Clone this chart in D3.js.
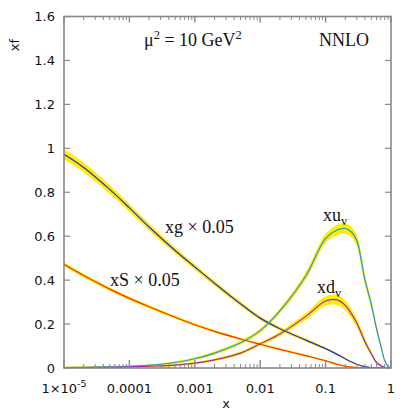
<!DOCTYPE html>
<html><head><meta charset="utf-8">
<script src="https://cdn.jsdelivr.net/npm/d3@7"></script>
<style>body{margin:0;background:#fff;}svg{display:block;}</style>
</head><body>
<svg id="c" width="415" height="415"></svg>
<script>
const xs = [1e-5,2e-5,5e-5,1e-4,2e-4,5e-4,1e-3,2e-3,5e-3,0.01,0.02,0.05,0.1,0.15,0.2,0.25,0.3,0.4,0.5,0.6,0.7,0.8,0.9,1];
const xg = [0.973,0.913,0.813,0.729,0.642,0.535,0.46,0.386,0.292,0.227,0.179,0.127,0.088,0.062,0.042,0.027,0.017,0.006,0.002,0.0007,0.0002,0,0,0];
const xgErr = [0.022,0.02,0.018,0.016,0.014,0.012,0.01,0.009,0.008,0.007,0.006,0.005,0.004,0.003,0.002,0.002,0.001,0.001,0,0,0,0,0,0];
const xS = [0.472,0.421,0.359,0.317,0.279,0.231,0.197,0.167,0.132,0.108,0.085,0.056,0.033,0.017,0.008,0.004,0.002,0.0005,0.0001,0,0,0,0,0];
const xSErr = [0.007,0.006,0.006,0.005,0.005,0.004,0.004,0.004,0.003,0.003,0.003,0.002,0.002,0.002,0.001,0.001,0.001,0,0,0,0,0,0,0];
const xuv = [0.002,0.003,0.005,0.007,0.012,0.025,0.042,0.068,0.115,0.17,0.26,0.42,0.59,0.628,0.635,0.618,0.58,0.40,0.29,0.18,0.10,0.035,0.008,0];
const xuvErr = [0.002,0.002,0.002,0.002,0.002,0.003,0.004,0.005,0.006,0.007,0.009,0.013,0.018,0.021,0.022,0.021,0.019,0.014,0.01,0.007,0.004,0.002,0.001,0];
const xdv = [0.0015,0.002,0.0035,0.005,0.008,0.013,0.022,0.037,0.068,0.11,0.155,0.235,0.305,0.31,0.285,0.245,0.205,0.12,0.065,0.025,0.01,0.003,0.0005,0];
const xdvErr = [0.001,0.001,0.001,0.002,0.002,0.003,0.003,0.004,0.005,0.006,0.008,0.013,0.019,0.021,0.02,0.018,0.016,0.011,0.007,0.004,0.002,0.001,0,0];
const yTicks = [0,0.2,0.4,0.6,0.8,1,1.2,1.4,1.6];
const yTickLabels = ["0","0.2","0.4","0.6","0.8","1","1.2","1.4","1.6"];
const xMajor = [1e-5,1e-4,1e-3,0.01,0.1,1];
const xTickLabels = ["1\u00d710","0.0001","0.001","0.01","0.1","1"];

const series = [
  {v:xS, e:xSErr, color:"#ff2a00"},
  {v:xg, e:xgErr, color:"#2a2ae0"},
  {v:xuv, e:xuvErr, color:"#1e98e0"},
  {v:xdv, e:xdvErr, color:"#a424c0"}
];

const L=64, R=391, T=16.5, B=368;
const svg = d3.select("#c");
const x = d3.scaleLog().domain([1e-5,1]).range([L,R]);
const y = d3.scaleLinear().domain([0,1.6]).range([B,T]);

svg.append("clipPath").attr("id","pc").append("rect").attr("x",L).attr("y",T).attr("width",R-L).attr("height",B-T);
const plot = svg.append("g").attr("clip-path","url(#pc)");

const crv = d3.curveCatmullRom.alpha(0.5);
const area = d3.area().x((d,i)=>x(xs[i])).y0(d=>y(Math.max(0,d[0]-d[1]))).y1(d=>y(d[0]+d[1])).curve(crv);
const line = d3.line().x((d,i)=>x(xs[i])).y(d=>y(d)).curve(crv);

series.forEach(s=>{
  const pts = s.v.map((v,i)=>[v,s.e[i]]);
  plot.append("path").attr("d",area(pts)).attr("fill","#ffee00").attr("stroke","#ffee00").attr("stroke-width",1);
});
series.forEach(s=>{
  plot.append("path").attr("d",line(s.v)).attr("fill","none").attr("stroke",s.color).attr("stroke-width",1.2);
});

const ax = svg.append("g").attr("stroke","#888").attr("fill","none");
ax.append("rect").attr("x",L).attr("y",T).attr("width",R-L).attr("height",B-T).attr("stroke-width",1.6);
const minors = [];
for (let d=-5; d<0; d++) for (let k=2;k<10;k++) minors.push(k*Math.pow(10,d));
minors.forEach(m=>{
  ax.append("line").attr("x1",x(m)).attr("x2",x(m)).attr("y1",B).attr("y2",B-4).attr("stroke-width",1);
  ax.append("line").attr("x1",x(m)).attr("x2",x(m)).attr("y1",T).attr("y2",T+3.5).attr("stroke-width",1);
});
xMajor.forEach(m=>{
  ax.append("line").attr("x1",x(m)).attr("x2",x(m)).attr("y1",B).attr("y2",B-8).attr("stroke-width",1.4);
  ax.append("line").attr("x1",x(m)).attr("x2",x(m)).attr("y1",T).attr("y2",T+6).attr("stroke-width",1.4);
});
yTicks.forEach(t=>{
  ax.append("line").attr("x1",L).attr("x2",L+6).attr("y1",y(t)).attr("y2",y(t)).attr("stroke-width",1.2);
  ax.append("line").attr("x1",R).attr("x2",R-6).attr("y1",y(t)).attr("y2",y(t)).attr("stroke-width",1.2);
});

const sans = "'DejaVu Sans', Verdana, sans-serif";
const serif = "'Liberation Serif', 'Times New Roman', serif";
const tl = svg.append("g").attr("font-family",sans).attr("font-size",13).attr("fill","#111");
yTicks.forEach((t,i)=>{
  tl.append("text").attr("x",55).attr("y",y(t)).attr("dy","0.36em").attr("text-anchor","end").text(yTickLabels[i]);
});
xMajor.forEach((m,i)=>{
  const t = tl.append("text").attr("x",x(m)).attr("y",392.5).attr("text-anchor","middle");
  t.append("tspan").text(xTickLabels[i]);
  if (i===0) t.append("tspan").attr("font-size",9.5).attr("dy",-6).text("-5");
});
tl.append("text").attr("x",226).attr("y",408).attr("text-anchor","middle").text("x");
tl.append("text").attr("transform","translate(19,45) rotate(-90)").attr("text-anchor","middle").text("xf");

const an = svg.append("g").attr("font-family",serif).attr("font-size",18).attr("fill","#111");
const t1 = an.append("text").attr("x",144).attr("y",46);
t1.append("tspan").text("\u03bc");
t1.append("tspan").attr("font-size",12.5).attr("dy",-7).text("2");
t1.append("tspan").attr("dy",7).text(" = 10 GeV");
t1.append("tspan").attr("font-size",12.5).attr("dy",-7).text("2");
an.append("text").attr("x",319).attr("y",46).text("NNLO");
an.append("text").attr("x",165).attr("y",233).text("xg \u00d7 0.05");
an.append("text").attr("x",110).attr("y",286).text("xS \u00d7 0.05");
const t2 = an.append("text").attr("x",323).attr("y",221);
t2.append("tspan").text("xu");
t2.append("tspan").attr("font-size",12.5).attr("dy",4).text("v");
const t3 = an.append("text").attr("x",317).attr("y",293);
t3.append("tspan").text("xd");
t3.append("tspan").attr("font-size",12.5).attr("dy",4).text("v");
</script>
</body></html>
